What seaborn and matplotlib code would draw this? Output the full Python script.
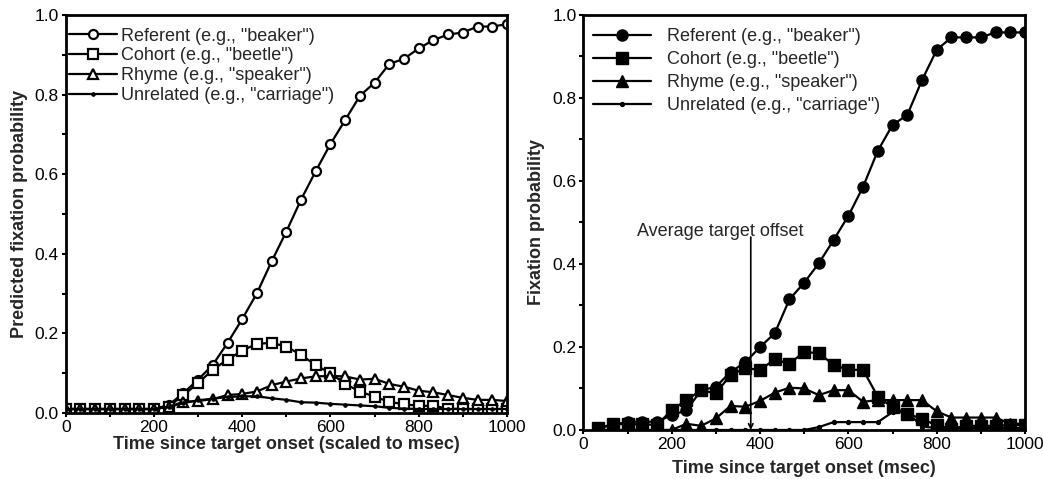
import numpy as np
import pandas as pd
import matplotlib
matplotlib.use("Agg")
import matplotlib.pyplot as plt
import seaborn as sns
from matplotlib.ticker import MultipleLocator

sns.set_style("ticks")
plt.rcParams['font.family'] = ['Liberation Sans', 'DejaVu Sans']

# ---------------- data ----------------
labels = ['Referent (e.g., "beaker")', 'Cohort (e.g., "beetle")',
          'Rhyme (e.g., "speaker")', 'Unrelated (e.g., "carriage")']

left_time = [0, 33.3, 66.7, 100, 133.3, 166.7, 200, 233.3, 266.7, 300, 333.3,
             366.7, 400, 433.3, 466.7, 500, 533.3, 566.7, 600, 633.3, 666.7,
             700, 733.3, 766.7, 800, 833.3, 866.7, 900, 933.3, 966.7, 1000]
left_referent = [0.01, 0.01, 0.01, 0.01, 0.01, 0.01, 0.01, 0.02, 0.05, 0.084, 0.121,
                 0.176, 0.236, 0.301, 0.381, 0.456, 0.536, 0.608, 0.676, 0.736, 0.797,
                 0.830, 0.877, 0.890, 0.916, 0.937, 0.951, 0.956, 0.971, 0.971, 0.977]
left_cohort = [0.01, 0.01, 0.01, 0.01, 0.01, 0.01, 0.01, 0.016, 0.045, 0.075, 0.109,
               0.134, 0.157, 0.174, 0.176, 0.167, 0.146, 0.120, 0.100, 0.073, 0.054,
               0.041, 0.028, 0.022, 0.018, 0.018, 0.011, 0.01, 0.01, 0.01, 0.01]
left_rhyme = [0.01, 0.01, 0.01, 0.01, 0.01, 0.01, 0.01, 0.016, 0.028, 0.03, 0.035,
              0.045, 0.048, 0.054, 0.07, 0.079, 0.087, 0.092, 0.093, 0.092, 0.084,
              0.086, 0.073, 0.066, 0.056, 0.052, 0.045, 0.038, 0.033, 0.033, 0.03]
left_unrelated = [0.01, 0.01, 0.01, 0.01, 0.01, 0.01, 0.01, 0.015, 0.025, 0.032, 0.036,
                  0.04, 0.042, 0.042, 0.037, 0.033, 0.027, 0.026, 0.023, 0.021, 0.019,
                  0.017, 0.013, 0.011, 0.01, 0.01, 0.01, 0.01, 0.01, 0.01, 0.01]

right_time = [33.3, 66.7, 100, 133.3, 166.7, 200, 233.3, 266.7, 300, 333.3,
              366.7, 400, 433.3, 466.7, 500, 533.3, 566.7, 600, 633.3, 666.7,
              700, 733.3, 766.7, 800, 833.3, 866.7, 900, 933.3, 966.7, 1000]
right_referent = [0.005, 0.012, 0.02, 0.02, 0.02, 0.036, 0.047, 0.096, 0.104, 0.14,
                  0.163, 0.2, 0.233, 0.315, 0.355, 0.402, 0.458, 0.516, 0.586, 0.673,
                  0.735, 0.759, 0.843, 0.916, 0.946, 0.946, 0.946, 0.958, 0.958, 0.958]
right_cohort = [0.004, 0.014, 0.014, 0.014, 0.012, 0.048, 0.072, 0.096, 0.088, 0.133,
                0.149, 0.145, 0.17, 0.16, 0.188, 0.185, 0.157, 0.145, 0.145, 0.08,
                0.055, 0.039, 0.027, 0.011, 0.003, 0.01, 0.01, 0.01, 0.012, 0.012]
right_rhyme = [0.0, 0.0, 0.0, 0.0, 0.0, 0.0, 0.015, 0.01, 0.028, 0.058,
               0.056, 0.07, 0.09, 0.102, 0.1, 0.084, 0.096, 0.096, 0.068, 0.072,
               0.072, 0.072, 0.072, 0.045, 0.03, 0.03, 0.03, 0.03, 0.015, 0.015]
right_unrelated = [0.0, 0.0, 0.0, 0.0, 0.0, 0.0, 0.0, 0.0, 0.0, 0.0,
                   0.0, 0.0, 0.0, 0.0, 0.0, 0.007, 0.019, 0.019, 0.019, 0.019,
                   0.043, 0.043, 0.008, 0.005, 0.005, 0.005, 0.005, 0.005, 0.005, 0.005]

yticks = [0.0, 0.2, 0.4, 0.6, 0.8, 1.0]
xticks = [0, 200, 400, 600, 800, 1000]

# ---------------- figure ----------------
fig = plt.figure(figsize=(10.43, 4.79), dpi=100)
axL = fig.add_axes([0.063, 0.1378, 0.4231, 0.8309])
axR = fig.add_axes([0.5593, 0.1023, 0.4235, 0.8664])

lw = 1.6
left_series = [left_referent, left_cohort, left_rhyme, left_unrelated]
left_styles = [dict(marker='o', markersize=6.5, markerfacecolor='white', markeredgewidth=1.6),
               dict(marker='s', markersize=6.5, markerfacecolor='white', markeredgewidth=1.6),
               dict(marker='^', markersize=7, markerfacecolor='white', markeredgewidth=1.6),
               dict(marker='o', markersize=2.5, markerfacecolor='black', markeredgewidth=0.8)]
for vals, lab, st in zip(left_series, labels, left_styles):
    sns.lineplot(x=left_time, y=vals, ax=axL, color='black', linewidth=lw,
                 markeredgecolor='black', label=lab, **st)

right_series = [right_referent, right_cohort, right_rhyme, right_unrelated]
right_styles = [dict(marker='o', markersize=8, markerfacecolor='black', markeredgewidth=1),
                dict(marker='s', markersize=8, markerfacecolor='black', markeredgewidth=1),
                dict(marker='^', markersize=8.5, markerfacecolor='black', markeredgewidth=1),
                dict(marker='o', markersize=3, markerfacecolor='black', markeredgewidth=0.8)]
for vals, lab, st in zip(right_series, labels, right_styles):
    sns.lineplot(x=right_time, y=vals, ax=axR, color='black', linewidth=lw,
                 markeredgecolor='black', label=lab, **st)

fs = 13
tfs = 12.5
for ax in (axL, axR):
    ax.set_xlim(0, 1000)
    ax.set_ylim(0, 1.0)
    ax.set_xticks(xticks)
    ax.set_yticks(yticks)
    ax.set_yticklabels([f"{v:.1f}" for v in yticks])
    ax.xaxis.set_minor_locator(MultipleLocator(100))
    ax.yaxis.set_minor_locator(MultipleLocator(0.1))
    ax.tick_params(which='both', direction='out', length=3, width=1.5,
                   labelsize=tfs, pad=2, colors='black')
    for sp in ax.spines.values():
        sp.set_visible(True)
        sp.set_linewidth(2)
        sp.set_color('black')

axL.set_xlabel('Time since target onset (scaled to msec)', fontsize=fs, fontweight='bold', labelpad=1)
axL.set_ylabel('Predicted fixation probability', fontsize=fs, fontweight='bold', labelpad=5)
axR.set_xlabel('Time since target onset (msec)', fontsize=fs, fontweight='bold', labelpad=6)
axR.set_ylabel('Fixation probability', fontsize=fs, fontweight='bold', labelpad=5)

legL = axL.legend(loc='upper left', bbox_to_anchor=(0.008, 0.968), frameon=False,
                  fontsize=fs, handlelength=2.67, handletextpad=0.17, labelspacing=0.15,
                  borderaxespad=0, borderpad=0)
legR = axR.legend(loc='upper left', bbox_to_anchor=(0.022, 0.968), frameon=False,
                  fontsize=fs, handlelength=3.2, handletextpad=0.9, labelspacing=0.33,
                  borderaxespad=0, borderpad=0)

# annotation
axR.annotate('', xy=(379, 0.0), xytext=(379, 0.465),
             arrowprops=dict(arrowstyle='->', color='black', lw=1.2, shrinkA=0, shrinkB=0,
                             mutation_scale=8))
axR.text(122, 0.478, 'Average target offset', fontsize=fs, ha='left', va='center')

fig.savefig('out.png', dpi=100)
